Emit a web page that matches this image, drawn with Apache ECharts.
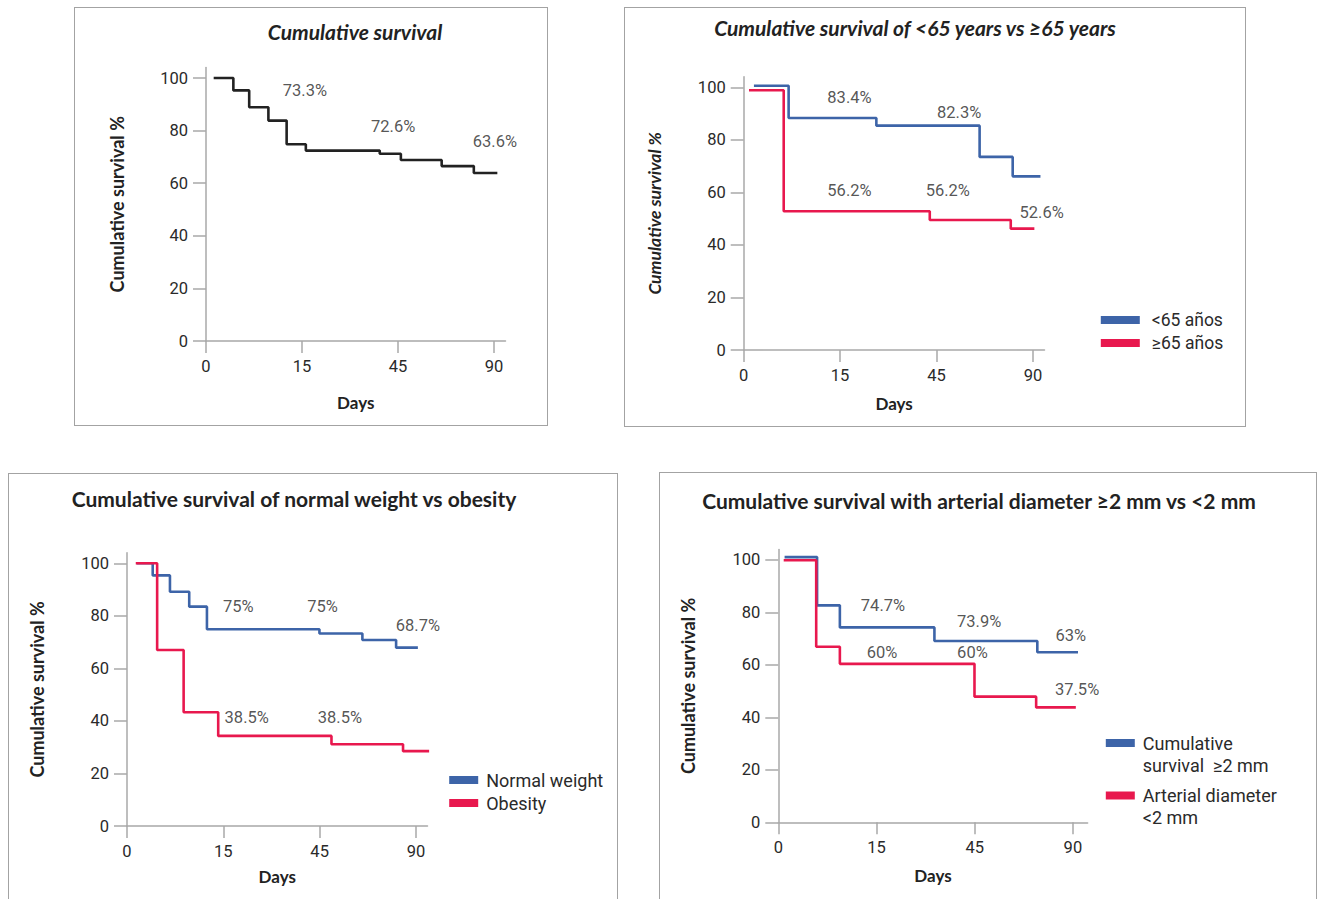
<!DOCTYPE html>
<html><head><meta charset="utf-8">
<script src="https://cdn.jsdelivr.net/npm/echarts@6/dist/echarts.min.js"></script>
<style>
html,body{margin:0;padding:0;background:#fff;width:1317px;height:899px;overflow:hidden;position:relative}
.panel{position:absolute;border:1px solid #a3a3a3;box-sizing:border-box;overflow:hidden}
.chart{width:100%;height:100%}
</style></head><body>
<div class="panel" style="left:74px;top:7px;width:474px;height:419px"><div id="c1" class="chart"></div></div>
<div class="panel" style="left:624px;top:7px;width:622px;height:420px"><div id="c2" class="chart"></div></div>
<div class="panel" style="left:8px;top:473px;width:610px;height:440px"><div id="c3" class="chart"></div></div>
<div class="panel" style="left:659px;top:472px;width:658px;height:440px"><div id="c4" class="chart"></div></div>
<script>
// ---- shared axis data ----
const xTickLabels = ['0', '15', '45', '90'];   // equally spaced tick labels (days)
const xTickPos = [0, 1, 2, 3];
const yTicks = [0, 20, 40, 60, 80, 100];

// ---- Panel 1: Cumulative survival ----
const p1Pos  = [0.08, 0.285, 0.45, 0.65, 0.84, 1.04, 1.81, 2.03, 2.455, 2.79, 3.035];
const p1Surv = [100, 95.3, 88.9, 83.8, 74.8, 72.4, 71.2, 68.8, 66.5, 63.9, 63.9];
const p1LabText = ['73.3%', '72.6%', '63.6%'];
const p1LabPos  = [1.03, 1.95, 3.01];
const p1LabVal  = [95.1, 81.4, 76.0];

// ---- Panel 2: <65 vs >=65 years ----
const p2Names = ['<65 años', '≥65 años'];
const p2BluePos  = [0.106, 0.466, 1.376, 2.447, 2.79, 3.078];
const p2BlueSurv = [100.6, 88.3, 85.4, 73.5, 66.1, 66.1];
const p2RedPos   = [0.055, 0.415, 1.93, 2.77, 3.015];
const p2RedSurv  = [98.9, 52.8, 49.5, 46.2, 46.2];
const p2LabText = ['83.4%', '82.3%', '71.3%', '56.2%', '56.2%', '52.6%'];
const p2LabPos  = [1.097, 2.235, 3.15, 1.097, 2.117, 3.09];
const p2LabVal  = [96.2, 90.6, 78.4, 60.9, 60.9, 52.3];

// ---- Panel 3: normal weight vs obesity ----
const p3Names = ['Normal weight', 'Obesity'];
const p3BluePos  = [0.1, 0.267, 0.446, 0.646, 0.83, 1.998, 2.444, 2.794, 3.02];
const p3BlueSurv = [100, 95.4, 89.2, 83.5, 74.9, 73.3, 70.8, 67.9, 67.9];
const p3RedPos   = [0.091, 0.313, 0.588, 0.947, 2.123, 2.866, 3.137];
const p3RedSurv  = [100, 67.0, 43.3, 34.3, 31.1, 28.5, 28.5];
const p3LabText = ['75%', '75%', '68.7%', '38.5%', '38.5%', '32.1%'];
const p3LabPos  = [1.155, 2.031, 3.02, 1.243, 2.211, 3.208];
const p3LabVal  = [83.7, 83.7, 76.5, 41.4, 41.4, 33.6];

// ---- Panel 4: arterial diameter >=2 mm vs <2 mm ----
const p4Names = ['Cumulative\nsurvival  ≥2 mm', 'Arterial diameter\n<2 mm'];
const p4BluePos  = [0.064, 0.395, 0.627, 1.59, 2.638, 3.052];
const p4BlueSurv = [101.1, 82.7, 74.3, 69.1, 64.8, 64.8];
const p4RedPos   = [0.055, 0.386, 0.627, 1.998, 2.626, 3.03];
const p4RedSurv  = [99.9, 66.9, 60.4, 47.9, 43.8, 43.8];
const p4LabText = ['74.7%', '73.9%', '63%', '60%', '60%', '37.5%'];
const p4LabPos  = [1.066, 2.046, 2.979, 1.057, 1.977, 3.043];
const p4LabVal  = [82.6, 76.7, 71.1, 64.7, 64.7, 50.8];

// ---- styling ----
const BLUE = '#3d64a8', RED = '#e8184e', BLACK = '#222222';
const AXIS = '#a8a8a8';
const NUMFONT = 'Roboto, "Liberation Sans", sans-serif';
const TITLEFONT = 'Lato, "Noto Sans", sans-serif';
const TXT = '#2a2a2a';

function pairs(xs, ys) { return xs.map((x, i) => [x, ys[i]]); }
function labels(texts, xs, ys) { return texts.map((t, i) => ({ name: t, value: [xs[i], ys[i]] })); }

function stepSeries(name, xs, ys, color) {
  return { type: 'line', name, step: 'end', data: pairs(xs, ys), showSymbol: false, symbol: 'none',
    lineStyle: { color, width: 2.6 }, itemStyle: { color }, silent: true };
}
function labelSeries(texts, xs, ys) {
  return { type: 'scatter', name: 'labels', symbolSize: 0, silent: true, data: labels(texts, xs, ys),
    label: { show: true, position: 'inside', formatter: p => p.name, color: TXT, fontSize: 16.5, fontFamily: NUMFONT } };
}

function makeOption(cfg) {
  return {
    animation: false,
    title: { text: cfg.title, left: cfg.titleX, top: cfg.titleY, textAlign: 'center', textVerticalAlign: 'middle',
      textStyle: { fontFamily: TITLEFONT, fontWeight: 'bold', fontStyle: cfg.italic ? 'italic' : 'normal', fontSize: 21, color: '#222' } },
    grid: { left: cfg.grid[0], top: cfg.grid[1], width: cfg.grid[2], height: cfg.grid[3], containLabel: false },
    xAxis: { type: 'value', min: 0, max: cfg.xMax,
      name: 'Days', nameLocation: 'middle', nameGap: cfg.xNameGap,
      nameTextStyle: { fontFamily: TITLEFONT, fontWeight: 'bold', fontSize: 17, color: '#222' },
      axisLine: { show: true, onZero: false, lineStyle: { color: AXIS, width: 1.5 } },
      axisTick: { show: true, inside: false, length: 12, customValues: xTickPos, lineStyle: { color: AXIS, width: 1.5 } },
      axisLabel: { customValues: xTickPos, formatter: v => xTickLabels[Math.round(v)], margin: 17, color: TXT, fontSize: 16.5, fontFamily: NUMFONT },
      splitLine: { show: false } },
    yAxis: { type: 'value', min: 0, max: 104,
      name: 'Cumulative survival %', nameLocation: 'middle', nameGap: cfg.yNameGap,
      nameTextStyle: { fontFamily: TITLEFONT, fontWeight: 'bold', fontStyle: cfg.yItalic ? 'italic' : 'normal', fontSize: cfg.yNameSize, color: '#222' },
      axisLine: { show: true, onZero: false, lineStyle: { color: AXIS, width: 1.5 } },
      axisTick: { show: true, inside: false, length: 13, customValues: yTicks, lineStyle: { color: AXIS, width: 1.5 } },
      axisLabel: { customValues: yTicks, margin: 18, color: TXT, fontSize: 16.5, fontFamily: NUMFONT },
      splitLine: { show: false } },
    legend: cfg.legend || { show: false },
    series: cfg.series
  };
}

function legendCfg(names, left, top, iw, pad, fs) {
  return { data: names, orient: 'vertical', left, top, padding: 0, itemGap: 3, icon: 'rect',
    itemWidth: iw, itemHeight: 8, selectedMode: false,
    textStyle: { fontFamily: NUMFONT, fontSize: fs, color: TXT, lineHeight: 20, padding: [0, 0, 0, pad] } };
}

const charts = [];
function init(id, opt) { const c = echarts.init(document.getElementById(id), null, { renderer: 'svg' }); c.setOption(opt); charts.push(c); }

init('c1', makeOption({
  title: 'Cumulative survival', italic: true, yItalic: false, yNameSize: 18, titleX: 275, titleY: 18.5,
  grid: [131, 59.5, 299.5, 273.5], xMax: 3.12, xNameGap: 53, yNameGap: 80,
  series: [ stepSeries('Cumulative survival', p1Pos, p1Surv, BLACK), labelSeries(p1LabText, p1LabPos, p1LabVal) ]
}));

init('c2', makeOption({
  title: 'Cumulative survival of <65 years vs ≥65 years', italic: true, yItalic: true, yNameSize: 17.5, titleX: 285, titleY: 14.5,
  grid: [118.7, 68.8, 300.8, 273.2], xMax: 3.12, xNameGap: 44.5, yNameGap: 80,
  legend: legendCfg(p2Names, 475.8, 302, 39, 7, 17.5),
  series: [ stepSeries(p2Names[0], p2BluePos, p2BlueSurv, BLUE), stepSeries(p2Names[1], p2RedPos, p2RedSurv, RED),
            labelSeries(p2LabText, p2LabPos, p2LabVal) ]
}));

init('c3', makeOption({
  title: 'Cumulative survival of normal weight vs obesity', italic: false, yItalic: false, yNameSize: 18, titleX: 280, titleY: 19.5,
  grid: [118, 78.8, 300.5, 273.2], xMax: 3.12, xNameGap: 41.5, yNameGap: 81,
  legend: legendCfg(p3Names, 440.2, 296, 29, 3, 18),
  series: [ stepSeries(p3Names[0], p3BluePos, p3BlueSurv, BLUE), stepSeries(p3Names[1], p3RedPos, p3RedSurv, RED),
            labelSeries(p3LabText, p3LabPos, p3LabVal) ]
}));

const p4Legend = [0, 1].map(i => ({ data: [p4Names[i]], orient: 'vertical', left: 445.8, top: [237, 289.5][i], padding: 0,
  icon: 'rect', itemWidth: 29, itemHeight: 8, selectedMode: false,
  formatter: name => '\n' + name,
  textStyle: { fontFamily: NUMFONT, fontSize: 18, color: TXT, lineHeight: 22, padding: [0, 0, 0, 3] } }));

init('c4', makeOption({
  title: 'Cumulative survival with arterial diameter ≥2 mm vs <2 mm', italic: false, yItalic: false, yNameSize: 18, titleX: 314, titleY: 22.8,
  grid: [118.3, 76.5, 309.3, 272.8], xMax: 3.15, xNameGap: 45, yNameGap: 81,
  legend: p4Legend,
  series: [ stepSeries(p4Names[0], p4BluePos, p4BlueSurv, BLUE), stepSeries(p4Names[1], p4RedPos, p4RedSurv, RED),
            labelSeries(p4LabText, p4LabPos, p4LabVal) ]
}));
</script>
</body></html>
